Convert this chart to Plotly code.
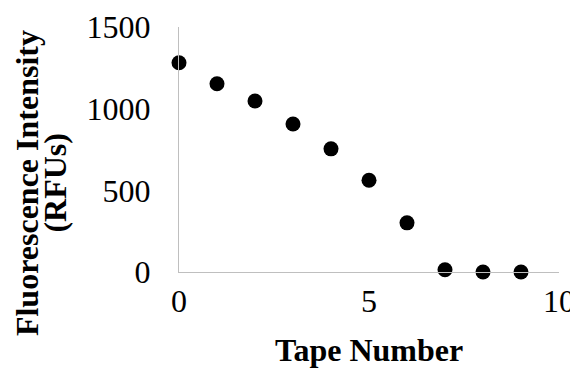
import plotly.graph_objects as go

tape_number = [0, 1, 2, 3, 4, 5, 6, 7, 8, 9]
fluorescence = [1281, 1153, 1047, 906, 754, 562, 301, 14, 0, 0]

x_ticks = [0, 5, 10]
y_ticks = [0, 500, 1000, 1500]

fig = go.Figure()
fig.add_trace(go.Scatter(
    x=tape_number, y=fluorescence, mode="markers",
    marker=dict(color="black", size=15),
    cliponaxis=False, showlegend=False,
))

serif = "Liberation Serif, Times New Roman, serif"
fig.update_layout(
    width=570, height=367,
    margin=dict(l=171, r=19, t=19, b=103),
    plot_bgcolor="white", paper_bgcolor="white",
    font=dict(family=serif, size=32, color="black"),
    xaxis=dict(range=[0, 10], tickvals=x_ticks, showgrid=False, zeroline=False,
               showline=True, linecolor="#BFBFBF", linewidth=1,
               ticks="", ticklabelstandoff=1, automargin=False),
    yaxis=dict(range=[0, 1500], tickvals=y_ticks, showgrid=False, zeroline=False,
               showline=True, linecolor="#BFBFBF", linewidth=1,
               ticks="", ticklabelstandoff=21, automargin=False),
    annotations=[
        dict(text="<b>Tape Number</b>", xref="paper", yref="paper", x=0.5, y=-0.318,
             showarrow=False, font=dict(family=serif, size=32), xanchor="center", yanchor="middle"),
        dict(text="<b>Fluorescence Intensity</b>", xref="paper", yref="paper", x=-0.40, y=0.363,
             showarrow=False, textangle=-90, font=dict(family=serif, size=32),
             xanchor="center", yanchor="middle"),
        dict(text="<b>(RFUs)</b>", xref="paper", yref="paper", x=-0.325, y=0.363,
             showarrow=False, textangle=-90, font=dict(family=serif, size=32),
             xanchor="center", yanchor="middle"),
    ],
)
fig.write_html("out.html")
